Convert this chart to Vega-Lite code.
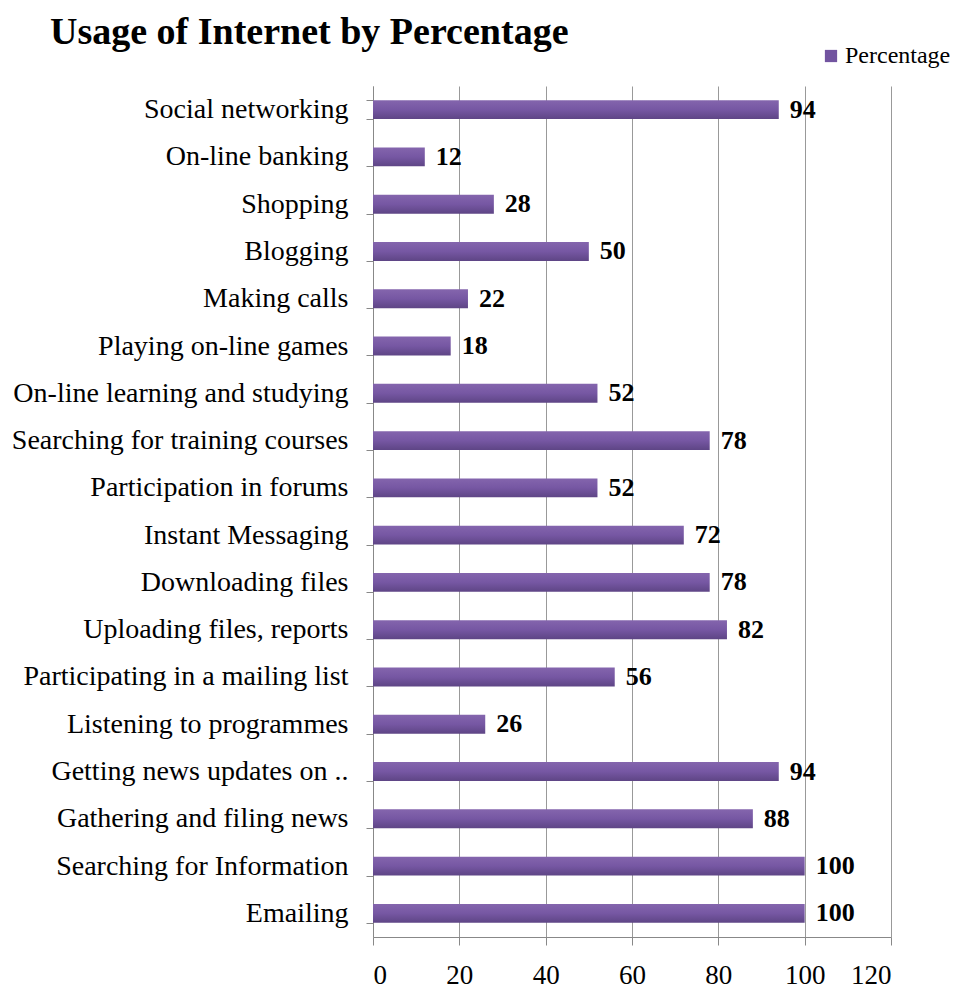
{
  "$schema": "https://vega.github.io/schema/vega-lite/v6.json",
  "width": 518,
  "height": 851,
  "autosize": {"type": "none"},
  "padding": {"left": 373, "top": 86, "right": 72, "bottom": 55},
  "background": "white",
  "title": {
    "text": "Usage of Internet by Percentage",
    "anchor": "start",
    "frame": "group",
    "dx": -323,
    "offset": -8,
    "font": "Liberation Serif",
    "fontSize": 38,
    "fontWeight": "bold",
    "color": "#000000"
  },
  "config": {
    "view": {"stroke": null},
    "font": "Liberation Serif"
  },
  "data": {
    "values": [
      {"activity": "Social networking", "pct": 94},
      {"activity": "On-line banking", "pct": 12},
      {"activity": "Shopping", "pct": 28},
      {"activity": "Blogging", "pct": 50},
      {"activity": "Making calls", "pct": 22},
      {"activity": "Playing on-line games", "pct": 18},
      {"activity": "On-line learning and studying", "pct": 52},
      {"activity": "Searching for training courses", "pct": 78},
      {"activity": "Participation in forums", "pct": 52},
      {"activity": "Instant Messaging", "pct": 72},
      {"activity": "Downloading files", "pct": 78},
      {"activity": "Uploading files, reports", "pct": 82},
      {"activity": "Participating in a mailing list", "pct": 56},
      {"activity": "Listening to programmes", "pct": 26},
      {"activity": "Getting news updates on ..", "pct": 94},
      {"activity": "Gathering and filing news", "pct": 88},
      {"activity": "Searching for Information", "pct": 100},
      {"activity": "Emailing", "pct": 100}
    ]
  },
  "encoding": {
    "y": {
      "field": "activity",
      "type": "nominal",
      "sort": null,
      "scale": {"paddingInner": 0.6, "paddingOuter": 0.3},
      "axis": {
        "title": null,
        "tickBand": "extent",
        "labelFont": "Liberation Serif",
        "labelFontSize": 28,
        "labelColor": "#000000",
        "labelPadding": 18,
        "labelLimit": 400,
        "tickSize": 7,
        "tickColor": "#888888",
        "domainColor": "#888888",
        "grid": false
      }
    },
    "x": {
      "field": "pct",
      "type": "quantitative",
      "scale": {"domain": [0, 120]},
      "axis": {
        "title": null,
        "values": [0, 20, 40, 60, 80, 100, 120],
        "labelFont": "Liberation Serif",
        "labelFontSize": 27,
        "labelColor": "#000000",
        "labelPadding": 17,
        "tickSize": 8,
        "tickColor": "#888888",
        "domainColor": "#888888",
        "grid": true,
        "gridColor": "#999999",
        "gridWidth": 1
      }
    }
  },
  "layer": [
    {
      "mark": {
        "type": "bar",
        "fill": {"gradient": "linear", "x1": 0, "y1": 0, "x2": 0, "y2": 1, "stops": [{"offset": 0, "color": "#8465AD"}, {"offset": 0.5, "color": "#7657A3"}, {"offset": 1, "color": "#5E4585"}]}
      }
    },
    {
      "transform": [{"filter": "datum.pct < 0"}],
      "mark": {"type": "bar"},
      "encoding": {
        "color": {
          "datum": "Percentage",
          "scale": {"range": ["#7254A0"]},
          "legend": {
            "title": null,
            "orient": "none",
            "legendX": 446,
            "legendY": -42,
            "symbolType": "square",
            "symbolSize": 150,
            "symbolStrokeWidth": 0,
            "labelFont": "Liberation Serif",
            "labelFontSize": 24,
            "labelColor": "#000000",
            "labelOffset": 2
          }
        }
      }
    },
    {
      "mark": {
        "type": "text",
        "align": "left",
        "dx": 11,
        "font": "Liberation Serif",
        "fontSize": 26,
        "fontWeight": "bold",
        "color": "#000000"
      },
      "encoding": {
        "text": {"field": "pct", "type": "quantitative"}
      }
    }
  ]
}
